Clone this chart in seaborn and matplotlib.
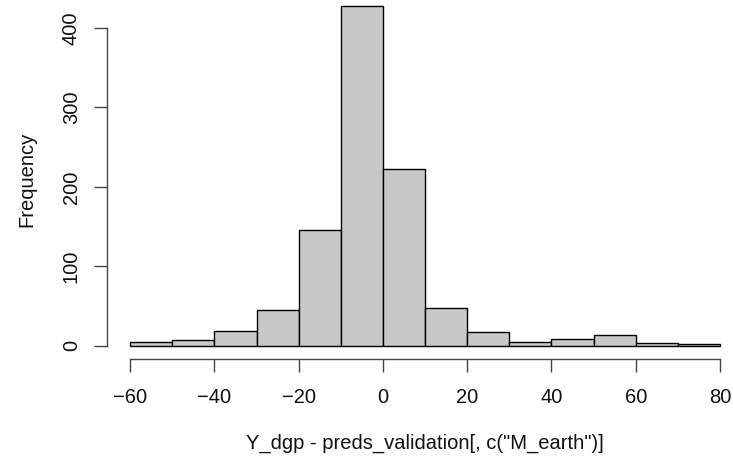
import matplotlib
matplotlib.use("Agg")
import matplotlib.pyplot as plt
import seaborn as sns
import numpy as np

bin_edges = [-60, -50, -40, -30, -20, -10, 0, 10, 20, 30, 40, 50, 60, 70, 80]
counts = [5, 7, 19, 45, 146, 428, 223, 48, 17, 5, 8, 13, 4, 2]
x_ticks = [-60, -40, -20, 0, 20, 40, 60, 80]
y_ticks = [0, 100, 200, 300, 400]

sns.set_style("white")
plt.rcParams['font.family'] = ['Liberation Sans', 'DejaVu Sans']

W, H = 733, 461
fig = plt.figure(figsize=(W / 100, H / 100), dpi=100)
# axes in pixel coords
l, r, t, b = 106.6, 743.6, 0, 359.3
ax = fig.add_axes([l / W, 1 - b / H, (r - l) / W, (b - t) / H])

centers = [(bin_edges[i] + bin_edges[i + 1]) / 2 for i in range(len(counts))]
sns.histplot(x=centers, weights=counts, bins=bin_edges, ax=ax,
             color="#C8C8C8", edgecolor="black", linewidth=1.0, alpha=1)

ax.set_xlim(-65.6, 85.6)
ax.set_ylim(-17.1, 346 / 0.795)
ax.set_xticks(x_ticks)
ax.set_yticks(y_ticks)
ax.set_yticklabels([str(v) for v in y_ticks], rotation=90, va="center")
for s in ["top", "right"]:
    ax.spines[s].set_visible(False)
ax.spines["bottom"].set_bounds(-60, 80)
ax.spines["left"].set_bounds(0, 400)
for s in ["bottom", "left"]:
    ax.spines[s].set_color("#444444")
    ax.spines[s].set_linewidth(1.0)
ax.tick_params(axis="both", direction="out", length=9.6, width=1.0, color="#444444",
               labelsize=14.5, labelcolor="#111111", bottom=True, left=True)
ax.tick_params(axis="x", pad=11)
ax.tick_params(axis="y", pad=9)
ax.set_xlabel('Y_dgp - preds_validation[, c("M_earth")]', fontsize=14.5,
              labelpad=19, color="#111111")
ax.set_ylabel("Frequency", fontsize=14.5, labelpad=18, color="#111111")
ax.grid(False)

fig.savefig("out.png", dpi=100)
